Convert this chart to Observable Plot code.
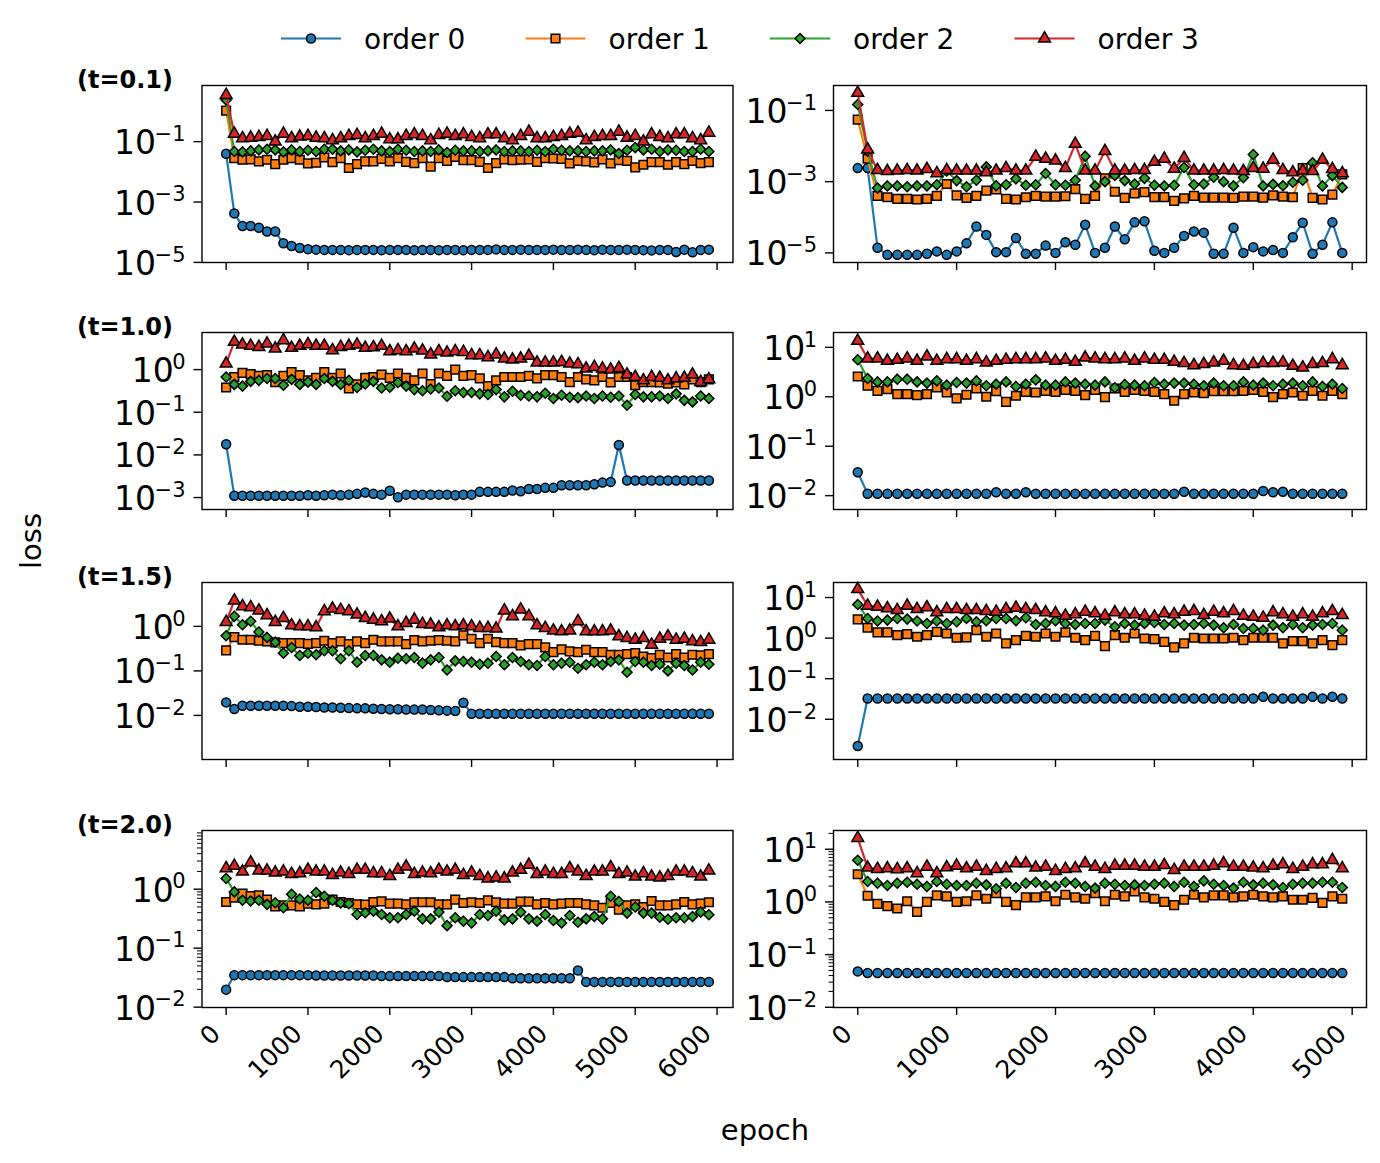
<!DOCTYPE html>
<html>
<head>
<meta charset="utf-8">
<script src="https://cdn.jsdelivr.net/npm/d3@7"></script>
<script src="https://cdn.jsdelivr.net/npm/@observablehq/plot@0.6"></script>
<style>
  html, body { margin: 0; padding: 0; background: #fff; }
  #fig { position: relative; width: 1380px; height: 1163px; background: #fff; color: #000; font-family: "DejaVu Sans", sans-serif; overflow: hidden; }
  #fig > svg { position: absolute; }
</style>
</head>
<body>
<div id="fig"></div>
<script>
// ---------------- data ----------------
const epochsLeft = [0,100,200,300,400,500,600,700,800,900,1000,1100,1200,1300,1400,1500,1600,1700,1800,1900,
  2000,2100,2200,2300,2400,2500,2600,2700,2800,2900,3000,3100,3200,3300,3400,3500,3600,3700,3800,3900,
  4000,4100,4200,4300,4400,4500,4600,4700,4800,4900,5000,5100,5200,5300,5400,5500,5600,5700,5800,5900];
const epochsRight = [0,100,200,300,400,500,600,700,800,900,1000,1100,1200,1300,1400,1500,1600,1700,1800,1900,
  2000,2100,2200,2300,2400,2500,2600,2700,2800,2900,3000,3100,3200,3300,3400,3500,3600,3700,3800,3900,
  4000,4100,4200,4300,4400,4500,4600,4700,4800,4900];
const orderNames = ["order 0", "order 1", "order 2", "order 3"];
const panelTitles = ["(t=0.1)", "(t=1.0)", "(t=1.5)", "(t=2.0)"];
const xTicksLeft = [0,1000,2000,3000,4000,5000,6000];
const xTicksRight = [0,1000,2000,3000,4000,5000];

// t=0.1, left
const L1_o0 = [0.04,4.2e-4,1.6e-4,1.6e-4,1.4e-4,1.05e-4,1.05e-4,4.3e-5,3.5e-5,3.0e-5,
  2.75e-5,2.65e-5,2.6e-5,2.6e-5,2.6e-5,2.55e-5,2.6e-5,2.6e-5,2.6e-5,2.55e-5,
  2.6e-5,2.6e-5,2.6e-5,2.55e-5,2.6e-5,2.6e-5,2.55e-5,2.6e-5,2.6e-5,2.55e-5,
  2.6e-5,2.6e-5,2.6e-5,2.7e-5,2.6e-5,2.6e-5,2.65e-5,2.6e-5,2.6e-5,2.6e-5,
  2.65e-5,2.6e-5,2.6e-5,2.65e-5,2.6e-5,2.55e-5,2.65e-5,2.6e-5,2.6e-5,2.65e-5,
  2.6e-5,2.55e-5,2.5e-5,2.6e-5,2.6e-5,2.2e-5,2.65e-5,2.15e-5,2.6e-5,2.65e-5];
const L1_o1 = [1.07,0.0284,0.0251,0.0257,0.0221,0.0251,0.018,0.0251,0.0284,0.0251,
  0.019,0.02,0.0299,0.021,0.0284,0.0134,0.018,0.0221,0.0221,0.027,
  0.0221,0.0284,0.0215,0.0195,0.0284,0.0148,0.0284,0.0232,0.0314,0.0245,
  0.0245,0.0215,0.0134,0.0195,0.0257,0.0245,0.0251,0.0257,0.0215,0.0284,
  0.0277,0.027,0.019,0.0232,0.0221,0.0205,0.0257,0.019,0.0245,0.0232,
  0.0141,0.0172,0.021,0.021,0.0172,0.021,0.018,0.0232,0.0195,0.021];
const L1_o2 = [2.4,0.047,0.0458,0.0494,0.0533,0.056,0.0533,0.0458,0.0533,0.047,
  0.052,0.047,0.056,0.056,0.0494,0.0533,0.0458,0.052,0.056,0.0494,
  0.047,0.056,0.052,0.047,0.0494,0.047,0.0533,0.0436,0.052,0.0494,
  0.0494,0.047,0.0494,0.0533,0.047,0.0494,0.0494,0.047,0.052,0.047,
  0.056,0.052,0.0494,0.0494,0.047,0.0494,0.0494,0.0533,0.0404,0.052,
  0.0636,0.0533,0.056,0.047,0.0533,0.052,0.047,0.047,0.056,0.047];
const L1_o3 = [3.5,0.183,0.129,0.135,0.142,0.153,0.1,0.183,0.129,0.146,
  0.153,0.135,0.129,0.111,0.129,0.153,0.166,0.129,0.153,0.183,
  0.119,0.119,0.153,0.174,0.153,0.111,0.166,0.183,0.153,0.174,
  0.142,0.129,0.174,0.174,0.129,0.111,0.153,0.213,0.129,0.129,
  0.142,0.153,0.183,0.197,0.111,0.142,0.153,0.153,0.213,0.135,
  0.153,0.1,0.174,0.142,0.129,0.174,0.174,0.129,0.111,0.197];

// t=0.1, right
const R1_o0 = [2.4e-3,2.4e-3,1.4e-5,8.8e-6,8.8e-6,8.8e-6,8.8e-6,9.5e-6,1.1e-5,8.8e-6,
  1.1e-5,1.85e-5,5.5e-5,3.2e-5,1.05e-5,1.05e-5,2.6e-5,9.5e-6,9.5e-6,1.6e-5,
  1.0e-5,2.0e-5,1.7e-5,6.2e-5,1.0e-5,1.4e-5,5.5e-5,2.4e-5,7.2e-5,7.7e-5,
  1.15e-5,1.0e-5,1.4e-5,3.0e-5,4.0e-5,3.7e-5,9.5e-6,9.5e-6,5.1e-5,1.0e-5,
  1.45e-5,1.1e-5,1.2e-5,1.0e-5,2.75e-5,7.0e-5,9.5e-6,1.7e-5,7.2e-5,1.0e-5];
const R1_o1 = [0.055,4.4e-3,4.0e-4,3.65e-4,3.3e-4,3.3e-4,3.15e-4,3.3e-4,4.0e-4,8.6e-4,
  4.1e-4,3.5e-4,4.0e-4,5.6e-4,6.1e-4,3.3e-4,3.15e-4,3.65e-4,4.0e-4,3.8e-4,
  3.8e-4,3.9e-4,6.2e-4,3.3e-4,4.0e-4,1.24e-3,5.2e-4,3.5e-4,4.7e-4,5.1e-4,
  3.7e-4,3.7e-4,2.9e-4,3.4e-4,4.0e-4,3.55e-4,3.55e-4,3.55e-4,3.5e-4,3.8e-4,
  3.8e-4,3.55e-4,4.1e-4,3.8e-4,3.65e-4,2.4e-3,3.5e-4,3.15e-4,4.3e-4,1.6e-3];
const R1_o2 = [0.147,7.2e-3,6.6e-4,7.6e-4,7.6e-4,7.2e-4,7.6e-4,7.6e-4,8.2e-4,2.0e-3,
  1.07e-3,7.2e-4,1.1e-3,2.6e-3,7.7e-4,8.2e-4,1.2e-3,7.9e-4,8.2e-4,1.7e-3,
  8.2e-4,7.9e-4,1.1e-3,5.2e-3,7.6e-4,1.0e-3,1.5e-3,1.07e-3,8.6e-4,1.24e-3,
  7.9e-4,7.6e-4,7.9e-4,2.5e-3,8.2e-4,8.6e-4,1.33e-3,1.0e-3,7.6e-4,1.3e-3,
  5.8e-3,7.6e-4,8.4e-4,7.7e-4,9.6e-4,1.1e-3,3.4e-3,7.6e-4,1.48e-3,6.9e-4];
const R1_o3 = [0.31,8.0e-3,2.1e-3,1.97e-3,2.04e-3,2.1e-3,2.04e-3,2.25e-3,1.72e-3,2.1e-3,
  2.04e-3,2.04e-3,2.04e-3,1.82e-3,2.04e-3,2.4e-3,2.04e-3,2.04e-3,5.0e-3,4.4e-3,
  3.9e-3,2.4e-3,0.0115,2.04e-3,2.04e-3,7.2e-3,2.04e-3,2.04e-3,2.1e-3,2.1e-3,
  3.6e-3,4.4e-3,2.3e-3,4.6e-3,2.04e-3,2.04e-3,2.04e-3,2.1e-3,2.04e-3,1.97e-3,
  2.4e-3,2.3e-3,4.1e-3,2.1e-3,1.82e-3,2.04e-3,1.97e-3,4.1e-3,2.25e-3,1.72e-3];

// t=1.0, left
const L2_o0 = [0.0178,1.1e-3,1.1e-3,1.1e-3,1.1e-3,1.1e-3,1.1e-3,1.1e-3,1.1e-3,1.1e-3,
  1.13e-3,1.1e-3,1.13e-3,1.17e-3,1.13e-3,1.17e-3,1.22e-3,1.31e-3,1.22e-3,1.17e-3,
  1.44e-3,1.02e-3,1.17e-3,1.17e-3,1.17e-3,1.17e-3,1.17e-3,1.17e-3,1.13e-3,1.17e-3,
  1.17e-3,1.36e-3,1.36e-3,1.36e-3,1.36e-3,1.46e-3,1.41e-3,1.58e-3,1.58e-3,1.69e-3,
  1.69e-3,1.95e-3,1.95e-3,1.95e-3,1.95e-3,2.05e-3,2.24e-3,2.33e-3,0.017,2.5e-3,
  2.5e-3,2.5e-3,2.5e-3,2.5e-3,2.5e-3,2.5e-3,2.5e-3,2.5e-3,2.5e-3,2.5e-3];
const L2_o1 = [0.38,0.67,0.835,0.78,0.71,0.74,0.51,0.71,0.88,0.74,
  0.56,0.64,0.88,0.64,0.81,0.36,0.45,0.64,0.67,0.76,
  0.64,0.81,0.64,0.56,0.81,0.46,0.81,0.71,1.0,0.71,
  0.74,0.62,0.41,0.56,0.67,0.67,0.67,0.71,0.62,0.74,
  0.74,0.67,0.51,0.67,0.59,0.56,0.67,0.5,0.67,0.67,
  0.43,0.51,0.51,0.5,0.47,0.5,0.45,0.59,0.51,0.59];
const L2_o2 = [0.67,0.45,0.41,0.53,0.56,0.62,0.62,0.43,0.59,0.45,
  0.51,0.45,0.62,0.53,0.45,0.56,0.38,0.46,0.53,0.37,
  0.385,0.5,0.41,0.34,0.32,0.35,0.37,0.237,0.32,0.29,
  0.29,0.27,0.26,0.34,0.23,0.31,0.25,0.24,0.23,0.28,
  0.21,0.25,0.225,0.22,0.24,0.21,0.24,0.225,0.24,0.146,
  0.26,0.23,0.23,0.24,0.21,0.27,0.19,0.175,0.24,0.21];
const L2_o3 = [1.38,4.45,3.85,3.59,3.39,4.06,3.1,4.87,3.22,3.59,
  3.92,3.59,3.59,2.84,3.39,3.59,3.85,3.22,3.34,3.59,
  2.69,2.84,2.69,3.1,2.79,2.25,2.69,2.5,2.69,2.59,
  2.17,2.17,1.94,2.25,1.81,1.71,1.81,2.09,1.46,1.46,
  1.46,1.51,1.38,1.33,1.05,1.15,1.05,1.0,1.09,0.76,
  0.67,0.56,0.67,0.64,0.56,0.62,0.64,0.76,0.51,0.59];

// t=1.0, right
const R2_o0 = [0.0297,0.0109,0.0109,0.0109,0.0109,0.0109,0.0109,0.0109,0.0109,0.0109,
  0.0109,0.0109,0.0109,0.0109,0.0117,0.0109,0.0109,0.0117,0.0109,0.0109,
  0.0109,0.0109,0.0109,0.0109,0.0109,0.0109,0.0109,0.0109,0.0109,0.0109,
  0.0109,0.0109,0.0109,0.012,0.0109,0.0109,0.0109,0.0109,0.0109,0.0109,
  0.0109,0.0124,0.0117,0.012,0.0109,0.0109,0.0109,0.0109,0.0109,0.0109];
const R2_o1 = [2.57,1.67,1.32,1.43,1.13,1.13,1.08,1.13,1.54,1.22,
  0.93,1.1,1.47,1.0,1.3,0.79,1.05,1.26,1.22,1.32,
  1.26,1.38,1.32,1.08,1.38,0.98,1.47,1.26,1.38,1.32,
  1.26,1.13,0.83,1.13,1.22,1.19,1.3,1.3,1.3,1.32,
  1.38,1.26,0.98,1.13,1.22,1.05,1.32,1.05,1.32,1.13];
const R2_o2 = [5.6,2.34,2.0,2.0,2.27,2.27,2.0,1.89,2.1,1.72,
  1.95,1.89,2.1,1.67,1.8,2.0,1.62,1.8,2.2,1.72,
  1.72,2.0,1.89,1.8,1.72,2.0,1.52,1.77,1.72,1.67,
  1.95,1.8,1.89,1.89,1.8,1.67,1.89,1.67,1.67,2.0,
  1.72,1.89,1.67,1.8,1.89,1.67,2.0,1.62,1.8,1.47];
const R2_o3 = [13.5,5.93,5.93,5.32,5.58,5.93,5.32,6.5,5.32,5.75,
  5.75,5.32,5.75,4.93,5.32,5.58,5.75,5.75,5.75,5.93,
  5.32,5.58,5.08,6.2,5.93,5.75,5.75,5.93,5.32,5.93,
  5.58,5.58,5.08,4.78,4.35,4.56,4.93,5.32,4.35,4.22,
  4.56,4.78,4.78,4.93,4.22,3.9,4.56,4.78,5.75,4.35];

// t=1.5, left
const L3_o0 = [0.0196,0.0139,0.0165,0.0165,0.0165,0.0165,0.0165,0.0165,0.0162,0.0157,
  0.0157,0.0154,0.0151,0.0151,0.0149,0.0146,0.0144,0.0144,0.0141,0.0139,
  0.0137,0.0137,0.0135,0.0135,0.0135,0.0132,0.013,0.0128,0.0125,0.0193,
  0.0109,0.0109,0.0109,0.0109,0.0109,0.0109,0.0109,0.0109,0.0109,0.0109,
  0.0109,0.0109,0.0109,0.0109,0.0109,0.0109,0.0109,0.0109,0.0109,0.0109,
  0.0109,0.0109,0.0109,0.0109,0.0109,0.0109,0.0109,0.0109,0.0109,0.0109];
const L3_o1 = [0.29,0.575,0.5,0.5,0.475,0.459,0.436,0.42,0.42,0.42,
  0.406,0.42,0.475,0.42,0.459,0.4,0.459,0.42,0.5,0.459,
  0.459,0.459,0.4,0.49,0.459,0.475,0.49,0.475,0.459,0.627,
  0.527,0.42,0.527,0.443,0.42,0.42,0.373,0.4,0.4,0.336,
  0.264,0.303,0.273,0.264,0.298,0.264,0.264,0.23,0.23,0.238,
  0.25,0.21,0.193,0.23,0.2,0.238,0.2,0.23,0.222,0.238];
const L3_o2 = [0.616,1.68,1.09,1.3,0.745,0.565,0.443,0.25,0.336,0.222,
  0.25,0.23,0.283,0.283,0.187,0.283,0.157,0.222,0.222,0.177,
  0.157,0.193,0.187,0.2,0.149,0.177,0.2,0.105,0.168,0.162,
  0.157,0.141,0.149,0.21,0.137,0.2,0.162,0.137,0.132,0.21,
  0.137,0.149,0.157,0.115,0.137,0.157,0.137,0.162,0.177,0.093,
  0.162,0.157,0.132,0.141,0.1,0.149,0.132,0.105,0.157,0.141];
const L3_o3 = [1.25,3.8,2.83,2.68,2.26,1.77,1.25,1.54,1.05,1.0,
  1.0,0.95,2.18,2.5,2.33,2.18,1.83,1.54,1.41,1.3,
  1.49,1.0,1.19,1.41,1.13,1.09,0.95,1.05,1.0,1.05,
  1.0,0.917,0.917,0.886,2.26,1.68,2.38,1.68,1.05,0.917,
  0.8,0.77,0.8,1.3,0.77,0.77,0.77,0.8,0.595,0.545,
  0.5,0.545,0.386,0.527,0.595,0.5,0.527,0.46,0.443,0.5];

// t=1.5, right
const R3_o0 = [0.0022,0.0326,0.0326,0.0326,0.0326,0.0326,0.0326,0.0326,0.0326,0.0326,
  0.0326,0.0326,0.0326,0.0326,0.0326,0.0326,0.0326,0.0326,0.0326,0.0326,
  0.0326,0.0326,0.0326,0.0326,0.0326,0.0326,0.0326,0.0326,0.0326,0.0326,
  0.0326,0.0326,0.0326,0.0326,0.0326,0.0326,0.0326,0.0326,0.0326,0.0326,
  0.0326,0.0358,0.0326,0.0326,0.0326,0.0326,0.0358,0.0326,0.0358,0.0326];
const R3_o1 = [2.9,1.8,1.38,1.38,1.19,1.25,1.08,1.19,1.43,1.3,
  1.02,1.04,1.57,1.08,1.3,0.74,0.89,1.14,1.08,1.3,
  1.08,1.38,1.02,0.89,1.14,0.635,1.19,1.02,1.3,0.98,
  0.945,0.81,0.59,0.74,1.02,0.98,0.98,0.98,1.02,0.89,
  1.02,1.02,1.02,0.74,0.84,0.84,0.74,0.89,0.67,0.89];
const R3_o2 = [6.75,3.05,2.63,2.78,3.05,2.94,2.63,2.3,2.63,2.3,
  2.53,3.05,2.53,2.67,3.05,3.05,2.67,3.17,2.17,2.3,
  2.67,2.3,2.17,2.3,2.3,2.78,1.9,2.3,2.09,2.3,
  2.43,2.17,2.3,2.09,2.17,2.3,2.09,1.8,2.17,1.73,
  1.73,1.57,2.09,1.8,2.17,1.8,2.09,2.17,2.3,1.57];
const R3_o3 = [16.1,6.27,5.92,5.38,4.9,6.27,5.18,5.7,4.3,5.18,
  5.18,4.9,4.9,4.63,4.46,5.18,5.6,5.18,4.9,4.3,
  4.06,3.55,3.83,4.46,4.06,3.55,4.3,3.83,3.83,3.55,
  3.36,4.06,3.83,4.46,4.63,3.69,4.46,4.06,4.63,3.55,
  3.36,3.17,4.3,3.83,3.36,3.83,3.36,4.06,4.63,3.69];

// t=2.0, left
const L4_o0 = [0.0198,0.0349,0.0349,0.0349,0.0349,0.0349,0.0349,0.0349,0.0349,0.0349,
  0.0349,0.0345,0.0345,0.0345,0.0345,0.0345,0.0345,0.0345,0.0345,0.0336,
  0.0336,0.0336,0.0336,0.0336,0.0336,0.0336,0.0336,0.0323,0.0323,0.0323,
  0.0323,0.0323,0.0323,0.0323,0.0323,0.031,0.031,0.031,0.031,0.031,
  0.031,0.031,0.031,0.042,0.0268,0.0268,0.0268,0.0268,0.0268,0.0268,
  0.0268,0.0268,0.0268,0.0268,0.0268,0.0268,0.0268,0.0268,0.0268,0.0268];
const L4_o1 = [0.607,0.72,0.84,0.76,0.79,0.665,0.511,0.532,0.532,0.511,
  0.568,0.553,0.568,0.665,0.607,0.583,0.553,0.546,0.607,0.62,
  0.568,0.568,0.553,0.6,0.6,0.6,0.553,0.553,0.665,0.583,
  0.6,0.583,0.648,0.6,0.568,0.568,0.614,0.614,0.553,0.583,
  0.553,0.568,0.583,0.583,0.553,0.532,0.485,0.583,0.45,0.532,
  0.553,0.498,0.63,0.532,0.532,0.553,0.607,0.553,0.568,0.6];
const L4_o2 = [1.52,0.9,0.648,0.63,0.648,0.553,0.59,0.485,0.82,0.683,
  0.648,0.877,0.76,0.648,0.583,0.568,0.373,0.398,0.425,0.373,
  0.327,0.327,0.373,0.425,0.314,0.314,0.409,0.241,0.327,0.287,
  0.268,0.373,0.358,0.425,0.302,0.314,0.409,0.314,0.287,0.373,
  0.294,0.268,0.358,0.275,0.314,0.344,0.314,0.76,0.62,0.393,
  0.498,0.393,0.393,0.335,0.31,0.327,0.327,0.344,0.409,0.368];
const L4_o3 = [2.26,2.48,1.98,2.83,2.06,2.06,1.91,1.98,1.81,1.86,
  2.12,1.98,1.98,1.74,1.91,1.81,2.12,2.12,1.86,1.86,
  1.67,2.12,2.41,1.81,1.91,1.86,2.12,1.98,2.12,1.74,
  1.91,1.67,1.52,1.58,1.52,1.91,2.12,2.58,1.81,1.98,
  1.81,1.81,2.26,1.98,1.67,1.98,1.98,2.35,1.81,1.91,
  1.63,1.86,1.63,1.58,1.67,1.98,1.98,1.86,1.63,2.06];

// t=2.0, right
const R4_o0 = [0.048,0.0447,0.0447,0.0447,0.0447,0.0447,0.0447,0.0447,0.0447,0.0447,
  0.0447,0.0447,0.0447,0.0447,0.0447,0.0447,0.0447,0.0447,0.0447,0.0447,
  0.0447,0.0447,0.0447,0.0447,0.0447,0.0447,0.0447,0.0447,0.0447,0.0447,
  0.0447,0.0447,0.0447,0.0447,0.0447,0.0447,0.0447,0.0447,0.0447,0.0447,
  0.0447,0.0447,0.0447,0.0447,0.0447,0.0447,0.0447,0.0447,0.0447,0.0447];
const R4_o1 = [3.35,1.31,0.92,0.83,0.75,1.03,0.65,1.0,1.33,1.28,
  1.0,1.03,1.33,1.15,1.47,1.0,0.87,1.22,1.22,1.28,
  1.03,1.37,1.22,1.15,1.47,1.03,1.37,1.28,1.58,1.22,
  1.15,1.0,0.87,1.1,1.37,1.22,1.33,1.33,1.22,1.28,
  1.37,1.28,1.22,1.28,1.1,1.1,1.19,0.96,1.28,1.15];
const R4_o2 = [6.2,2.44,2.27,2.05,2.27,2.37,2.17,1.97,2.44,2.17,
  2.05,2.05,2.27,2.11,1.78,2.27,1.88,2.27,2.37,2.05,
  1.97,2.37,2.27,1.97,1.83,2.27,2.17,2.05,2.11,2.05,
  2.17,2.27,1.97,2.37,1.97,2.51,2.17,2.05,1.83,2.37,
  2.11,2.27,2.11,1.88,2.17,2.27,2.27,2.37,2.37,1.88];
const R4_o3 = [16.3,4.47,4.22,4.34,4.16,4.34,3.5,4.66,3.5,4.53,
  4.87,4.34,4.66,3.87,4.22,4.34,5.38,5.38,4.47,4.66,
  3.87,4.22,4.34,5.38,4.66,4.22,4.87,4.87,4.87,4.66,
  4.66,5.0,4.04,4.66,4.66,4.66,4.87,5.38,4.66,4.66,
  4.47,4.34,4.87,5.16,4.22,4.66,5.16,5.16,6.2,4.34];

// ---------------- styling / layout ----------------
const colors = ["#1f77b4", "#ff7f0e", "#2ca02c", "#d62728"];
const symbols = ["circle", "square", "diamond2", "triangle"];
const d3Symbols = [d3.symbolCircle, d3.symbolSquare, d3.symbolDiamond2, d3.symbolTriangle];
const symR = [4.5, 4.9, 4.5, 4.4];
const lineW = 2.2, edgeW = 1.5;

const panels = [
  {row: 0, col: 0, series: [L1_o0, L1_o1, L1_o2, L1_o3], ydom: [-5.003, 0.86], yt: [-5, -3, -1], minor: false},
  {row: 0, col: 1, series: [R1_o0, R1_o1, R1_o2, R1_o3], ydom: [-5.27, -0.30], yt: [-5, -3, -1], minor: false},
  {row: 1, col: 0, series: [L2_o0, L2_o1, L2_o2, L2_o3], ydom: [-3.28, 0.87], yt: [-3, -2, -1, 0], minor: false},
  {row: 1, col: 1, series: [R2_o0, R2_o1, R2_o2, R2_o3], ydom: [-2.28, 1.30], yt: [-2, -1, 0, 1], minor: false},
  {row: 2, col: 0, series: [L3_o0, L3_o1, L3_o2, L3_o3], ydom: [-2.99, 0.985], yt: [-2, -1, 0], minor: false},
  {row: 2, col: 1, series: [R3_o0, R3_o1, R3_o2, R3_o3], ydom: [-2.99, 1.37], yt: [-2, -1, 0, 1], minor: false},
  {row: 3, col: 0, series: [L4_o0, L4_o1, L4_o2, L4_o3], ydom: [-2.006, 0.995], yt: [-2, -1, 0], minor: true},
  {row: 3, col: 1, series: [R4_o0, R4_o1, R4_o2, R4_o3], ydom: [-2.004, 1.356], yt: [-2, -1, 0, 1], minor: true}
];

const colLayout = [
  {left: 0, width: 760, frameL: 201.5, frameR: 732.5, epochs: epochsLeft, xt: xTicksLeft},
  {left: 720, width: 660, frameL: 833, frameR: 1366, epochs: epochsRight, xt: xTicksRight}
];
const rowTops = [85, 332, 582, 830];
const frameH = 177;

// y tick labels drawn as "10" plus a raised exponent, like mathtext
const baseFont = 33, supFont = 21, labelGap = 16.5;
function powerLabelMarks(values) {
  const out = [];
  values.forEach(v => {
    const e = Math.round(Math.log10(v));
    const supStr = (e < 0 ? "\u2212" : "") + String(Math.abs(e));
    const supW = ((e < 0 ? 0.838 : 0) + String(Math.abs(e)).length * 0.636) * supFont;
    out.push(Plot.text([v], {y: d => d, frameAnchor: "left", text: () => "10", textAnchor: "end",
      lineAnchor: "middle", dx: -(labelGap + supW - 1.5), dy: 2, fontSize: baseFont, fill: "black"}));
    out.push(Plot.text([v], {y: d => d, frameAnchor: "left", text: () => supStr, textAnchor: "end",
      lineAnchor: "middle", dx: -labelGap, dy: -7.5, fontSize: supFont, fill: "black"}));
  });
  return out;
}
const blank = () => "";

const fig = document.getElementById("fig");

panels.forEach(p => {
  const c = colLayout[p.col];
  const top = rowTops[p.row];
  const last = p.row === 3;
  const mT = 15, mB = last ? 130 : 20;
  const height = mT + frameH + mB;
  const lo = d3.min(c.epochs), hi = d3.max(c.epochs), pad = 0.05 * (hi - lo);
  const marks = [];
  p.series.forEach((vals, k) => {
    const d = vals.map((v, i) => ({epoch: c.epochs[i], loss: v}));
    marks.push(Plot.line(d, {x: "epoch", y: "loss", stroke: colors[k], strokeWidth: lineW}));
    marks.push(Plot.dot(d, {x: "epoch", y: "loss", symbol: symbols[k], r: symR[k],
      fill: colors[k], stroke: "black", strokeWidth: edgeW}));
  });
  const yTicks = p.yt.map(e => Math.pow(10, e));
  marks.push(Plot.frame({stroke: "black", strokeWidth: 1.4}));
  marks.push(Plot.axisY({ticks: yTicks, tickSize: 8, tickFormat: blank, strokeWidth: 1.4, label: null}));
  marks.push(...powerLabelMarks(yTicks));
  if (p.minor) {
    const minors = [];
    for (let e = Math.floor(p.ydom[0]); e <= Math.ceil(p.ydom[1]); e++) {
      for (let m = 2; m <= 9; m++) {
        const v = m * Math.pow(10, e), lv = Math.log10(v);
        if (lv >= p.ydom[0] && lv <= p.ydom[1]) minors.push(v);
      }
    }
    marks.push(Plot.axisY({ticks: minors, tickSize: 4.5, tickFormat: blank, strokeWidth: 1, label: null}));
  }
  marks.push(Plot.axisX({ticks: c.xt, tickSize: 8, tickFormat: blank, strokeWidth: 1.4, label: null}));
  if (last) {
    marks.push(Plot.axisX({ticks: c.xt, tickSize: 0, tickPadding: 22, tickRotate: -45, dx: -10,
      fontSize: 25, tickFormat: d => String(d), label: null}));
  }
  const svg = Plot.plot({
    width: c.width,
    height,
    marginLeft: c.frameL - c.left,
    marginRight: c.left + c.width - c.frameR,
    marginTop: mT,
    marginBottom: mB,
    x: {domain: [lo - pad, hi + pad], axis: null, label: null},
    y: {type: "log", domain: [Math.pow(10, p.ydom[0]), Math.pow(10, p.ydom[1])], axis: null, label: null},
    style: {fontFamily: "DejaVu Sans", background: "transparent", overflow: "visible", color: "black"},
    marks
  });
  svg.style.position = "absolute";
  svg.style.left = c.left + "px";
  svg.style.top = (top - mT) + "px";
  fig.appendChild(svg);
});

// overlay: legend, titles, axis labels
const ov = d3.select(fig).append("svg")
  .attr("width", 1380).attr("height", 1163)
  .style("left", "0px").style("top", "0px")
  .style("font-family", "DejaVu Sans");

const legendX = [281, 525.5, 770, 1014.5];
const legendY = 38.5;
orderNames.forEach((name, k) => {
  const x0 = legendX[k];
  ov.append("line").attr("x1", x0).attr("x2", x0 + 60).attr("y1", legendY).attr("y2", legendY)
    .attr("stroke", colors[k]).attr("stroke-width", lineW);
  ov.append("path").attr("d", d3.symbol(d3Symbols[k], symR[k] * symR[k] * Math.PI)())
    .attr("transform", `translate(${x0 + 30},${legendY})`)
    .attr("fill", colors[k]).attr("stroke", "black").attr("stroke-width", edgeW);
  ov.append("text").attr("x", x0 + 83).attr("y", legendY).attr("dy", "0.36em")
    .attr("font-size", 28).attr("fill", "black").text(name);
});

panelTitles.forEach((t, r) => {
  ov.append("text").attr("x", 77).attr("y", rowTops[r] + 2.5)
    .attr("font-size", 24).attr("font-weight", "bold").attr("fill", "black").text(t);
});

ov.append("text").attr("transform", "translate(41,541) rotate(-90)")
  .attr("text-anchor", "middle").attr("font-size", 29).attr("fill", "black").text("loss");
ov.append("text").attr("x", 765).attr("y", 1140)
  .attr("text-anchor", "middle").attr("font-size", 29).attr("fill", "black").text("epoch");
</script>
</body>
</html>
